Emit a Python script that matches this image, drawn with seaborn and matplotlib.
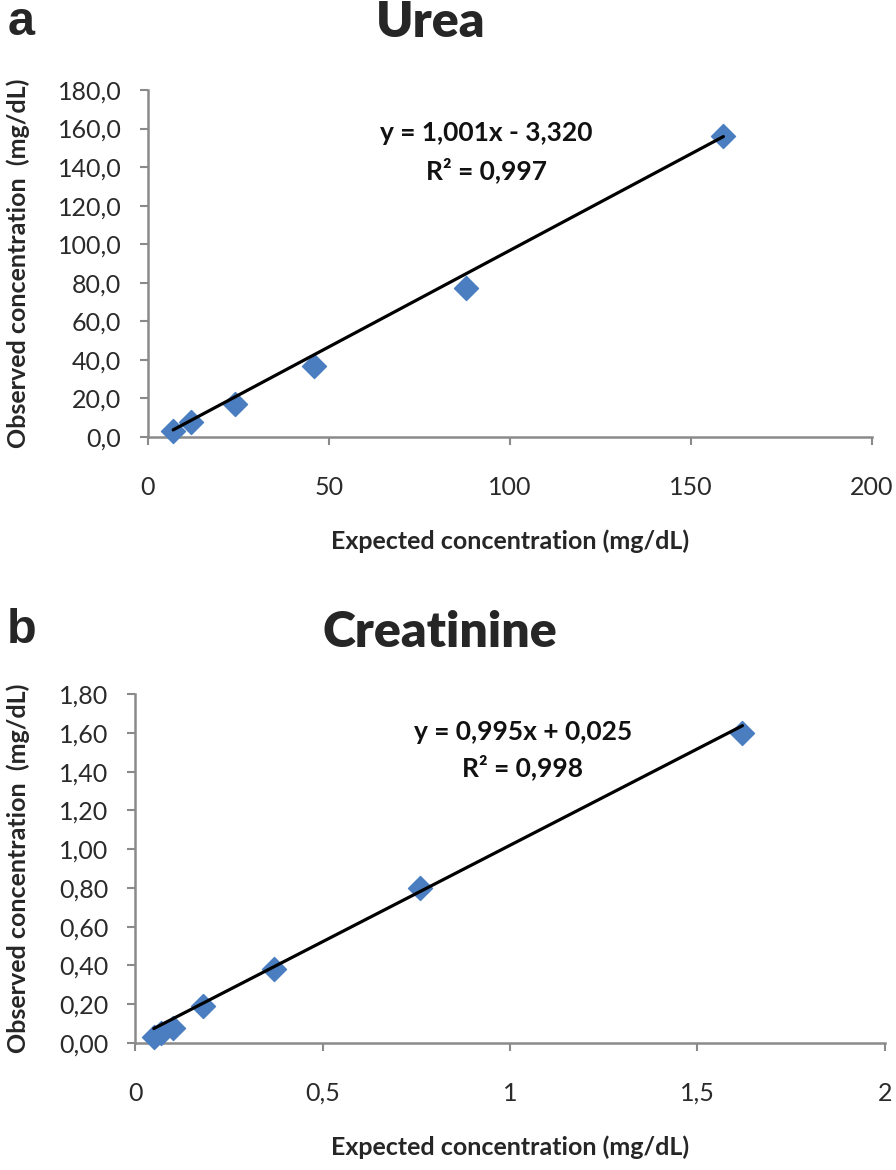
import pandas as pd
import matplotlib
matplotlib.use("Agg")
import matplotlib.pyplot as plt
from matplotlib.ticker import FuncFormatter, MultipleLocator
import seaborn as sns

# Urea (mg/dL)
urea_expected = [7, 12, 24, 46, 88, 159]
urea_observed = [3.0, 8.0, 17.0, 37.0, 77.5, 156.0]
urea_slope, urea_intercept = 1.001, -3.320
urea_eq = ["y = 1,001x - 3,320", "R² = 0,997"]

# Creatinine (mg/dL)
creat_expected = [0.05, 0.07, 0.10, 0.18, 0.37, 0.76, 1.62]
creat_observed = [0.03, 0.05, 0.08, 0.19, 0.38, 0.80, 1.60]
creat_slope, creat_intercept = 0.995, 0.025
creat_eq = ["y = 0,995x + 0,025", "R² = 0,998"]

sns.set_theme(style="white")
plt.rcParams["font.family"] = ["Lato", "DejaVu Sans"]

MARKER_COLOR = "#4A7EC0"
AXIS_COLOR = "#8A8A8A"


def comma_fmt(decimals):
    def f(v, pos):
        return f"{v:.{decimals}f}".replace(".", ",")
    return FuncFormatter(f)


def draw_panel(ax, xs, ys, slope, intercept, eq, xlim, xstep,
               ylim, ystep, ydec, eq_x, eq_y, ylabel_x):
    df = pd.DataFrame({"expected": xs, "observed": ys})
    sns.scatterplot(data=df, x="expected", y="observed", ax=ax, marker="D",
                    s=150, color=MARKER_COLOR, edgecolor=MARKER_COLOR,
                    zorder=3, clip_on=False)
    fit = pd.DataFrame({"expected": [min(xs), max(xs)]})
    fit["observed"] = slope * fit["expected"] + intercept
    sns.lineplot(data=fit, x="expected", y="observed", ax=ax, color="black",
                 linewidth=2.3, zorder=4)

    ax.set_xlim(*xlim)
    ax.set_ylim(*ylim)
    ax.xaxis.set_major_locator(MultipleLocator(xstep))
    ax.yaxis.set_major_locator(MultipleLocator(ystep))
    ax.xaxis.set_major_formatter(
        FuncFormatter(lambda v, p: f"{v:g}".replace(".", ",")))
    ax.yaxis.set_major_formatter(comma_fmt(ydec))

    sns.despine(ax=ax)
    for side in ["left", "bottom"]:
        ax.spines[side].set_color(AXIS_COLOR)
        ax.spines[side].set_linewidth(1.8)
    ax.tick_params(axis="both", direction="out", length=6, width=1.5,
                   color=AXIS_COLOR, labelsize=18, labelcolor="#2a2a2a",
                   bottom=True, left=True)
    ax.tick_params(axis="x", pad=22)
    ax.tick_params(axis="y", pad=13)

    ax.set_xlabel("Expected concentration (mg/dL)", fontsize=18,
                  fontweight="bold", labelpad=22)
    ax.set_ylabel("Observed concentration  (mg/dL)", fontsize=18,
                  fontweight="bold")
    ax.yaxis.set_label_coords(ylabel_x, 0.5)

    for line, yy in zip(eq, eq_y):
        ax.text(eq_x, yy, line, transform=ax.transAxes, ha="center",
                va="center", fontsize=19, fontweight="bold", color="#111111")


fig = plt.figure(figsize=(8.96, 11.70), dpi=100)
ax1 = fig.add_axes([0.165, 0.6265, 0.808, 0.2966])
ax2 = fig.add_axes([0.1507, 0.1085, 0.837, 0.2983])

draw_panel(ax1, urea_expected, urea_observed, urea_slope, urea_intercept,
           urea_eq, (0, 200), 50, (0, 180), 20, 1,
           0.468, (0.876, 0.769), -0.163)
draw_panel(ax2, creat_expected, creat_observed, creat_slope, creat_intercept,
           creat_eq, (0, 2), 0.5, (0, 1.8), 0.2, 2,
           0.517, (0.891, 0.791), -0.140)

# panel letters and titles
fig.text(0.008, 0.970, "a", fontsize=35, fontweight="bold",
         family="Liberation Sans", va="baseline")
fig.text(0.008, 0.4504, "b", fontsize=35, fontweight="bold",
         family="Liberation Sans", va="baseline")
fig.text(0.481, 0.9684, "Urea", fontsize=36, fontweight="heavy",
         ha="center", va="baseline")
fig.text(0.491, 0.447, "Creatinine", fontsize=36, fontweight="heavy",
         ha="center", va="baseline")

fig.savefig("out.png", dpi=100)
